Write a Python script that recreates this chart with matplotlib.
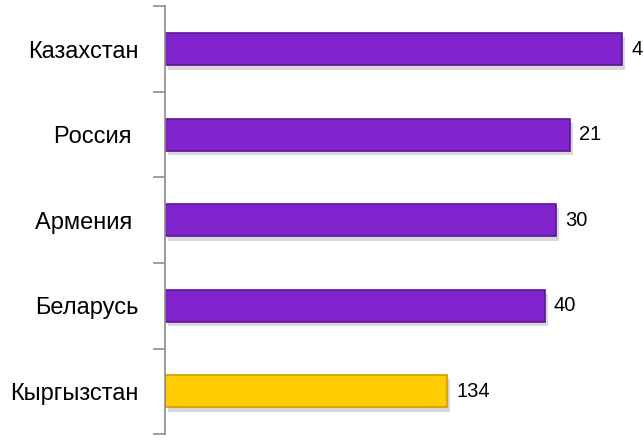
import matplotlib
matplotlib.use("Agg")
import matplotlib.pyplot as plt
import matplotlib.patheffects as pe
import numpy as np

# categories top to bottom, value labels and bar lengths (chart units)
countries = ["Казахстан", "Россия ", "Армения ", "Беларусь", "Кыргызстан"]
value_labels = ["4", "21", "30", "40", "134"]
bar_len = [457, 405, 391, 380, 282]
bar_colors = ["#8123CC", "#8123CC", "#8123CC", "#8123CC", "#FFCC00"]
edge_colors = ["#5B1595", "#5B1595", "#5B1595", "#5B1595", "#C9A000"]

plt.rcParams['font.family'] = ['Liberation Sans', 'DejaVu Sans']

fig = plt.figure(figsize=(6.44, 4.48), dpi=100)
ax = fig.add_axes([165 / 644, 1 - 434 / 448, 475 / 644, (434 - 6.5) / 448])

y = np.arange(len(countries))
bars = ax.barh(y, bar_len, height=0.38, color=bar_colors, edgecolor=edge_colors,
               linewidth=1.2)
for b in bars:
    b.set_path_effects([pe.SimplePatchShadow(offset=(2, -3), alpha=0.25, shadow_rgbFace="#666666"),
                        pe.Normal()])

for i, (v, lab) in enumerate(zip(bar_len, value_labels)):
    ax.text(v + 9, i, lab, va='center', ha='left', fontsize=14.5, color='black')

ax.set_xlim(0, 475)
ax.set_ylim(len(countries) - 0.5, -0.5)

# category boundaries as ticks on the y axis
ax.set_yticks(np.arange(len(countries) + 1) - 0.5, minor=False)
ax.set_yticklabels([])
ax.set_yticks(y, minor=True)
ax.set_yticklabels(countries, minor=True, fontsize=17)
ax.tick_params(axis='y', which='major', length=9, width=1.2, color='#8C8C8C', direction='out')
ax.tick_params(axis='y', which='minor', length=0, pad=19)
ax.set_xticks([])

for s in ['top', 'right', 'bottom']:
    ax.spines[s].set_visible(False)
ax.spines['left'].set_color('#8C8C8C')
ax.spines['left'].set_linewidth(1.2)

fig.savefig("out.png", dpi=100)
